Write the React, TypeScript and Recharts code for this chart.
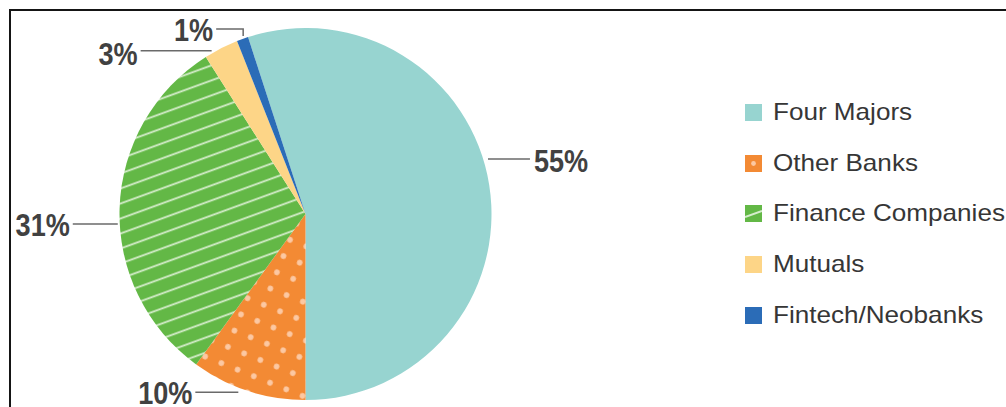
import React from 'react';
import { PieChart, Pie, Cell, Legend } from 'recharts';

// ---- data ----
const categories = ['Four Majors', 'Other Banks', 'Finance Companies', 'Mutuals', 'Fintech/Neobanks'];
const shares = [55, 10, 31, 3, 1];
const shareLabels = ['55%', '10%', '31%', '3%', '1%'];

// ---- styles ----
const COLORS = ['#97d4d0', '#f38a34', '#63b846', '#fdd587', '#2b6cb7'];
const FILLS = [COLORS[0], 'url(#dotsPattern)', 'url(#stripesPattern)', COLORS[3], COLORS[4]];

// label leader layout: angle (deg, ccw from east), gap outside the rim, line length, side, elbow rise, text dy
const LABEL_LAYOUT = [
  { angle: 16.8, gap: 4.6, len: 42, side: 1, elbow: 0, dy: 2, tgap: 4 },
  { angle: -110.65, gap: 4.5, len: 43, side: -1, elbow: 0, dy: 0.5, tgap: 3 },
  { angle: 183.05, gap: 2, len: 45, side: -1, elbow: 0, dy: 1, tgap: 3 },
  { angle: 119.9, gap: 2.3, len: 71, side: -1, elbow: 0, dy: 2.5, tgap: 3 },
  { angle: 109.3, gap: 2.6, len: 27, side: -1, elbow: 7, dy: 1, tgap: 3 },
];

const data = categories.map((name, i) => ({ name, value: shares[i], label: shareLabels[i] }));

const renderLabel = (props: any) => {
  const { cx, cy, outerRadius, index } = props;
  const L = LABEL_LAYOUT[index];
  const rad = (Math.PI / 180) * L.angle;
  const r = outerRadius + L.gap;
  const x0 = cx + r * Math.cos(rad);
  const y0 = cy - r * Math.sin(rad);
  const yl = y0 - L.elbow;
  const x1 = x0 + L.side * L.len;
  const tx = x1 + L.side * L.tgap;
  const ty = yl + L.dy;
  return (
    <g key={`lbl-${index}`}>
      <path d={`M${x0},${y0} L${x0},${yl} L${x1},${yl}`} stroke="#6a6a6a" strokeWidth={1.5} fill="none" />
      <text
        x={0}
        y={0}
        transform={`translate(${tx},${ty}) scale(0.86,1)`}
        textAnchor={L.side > 0 ? 'start' : 'end'}
        dominantBaseline="central"
        fontFamily="'Liberation Sans', Arial, sans-serif"
        fontWeight="bold"
        fontSize={31.5}
        fill="#414141"
      >
        {data[index].label}
      </text>
    </g>
  );
};

const LegendIcon = ({ index }: { index: number }) => (
  <svg width={17} height={17} style={{ display: 'block' }}>
    <rect x={0} y={0} width={17} height={17} fill={COLORS[index]} />
    {index === 1 && <circle cx={8.5} cy={8.5} r={2.4} fill="#fcc8a2" />}
    {index === 2 && <line x1={0} y1={12} x2={17} y2={6} stroke="#d6edcc" strokeWidth={2} />}
  </svg>
);

const renderLegend = () => (
  <div style={{ display: 'flex', flexDirection: 'column' }}>
    {data.map((d, i) => (
      <div key={d.name} style={{ height: 50.7, display: 'flex', alignItems: 'center' }}>
        <LegendIcon index={i} />
        <span
          style={{
            marginLeft: 11,
            fontFamily: "'Liberation Sans', Arial, sans-serif",
            fontSize: 23.4,
            color: '#363636',
            display: 'inline-block',
            transform: 'scaleX(1.115)',
            transformOrigin: 'left center',
            whiteSpace: 'nowrap',
          }}
        >
          {d.name}
        </span>
      </div>
    ))}
  </div>
);

export default function App() {
  return (
    <div style={{ position: 'fixed', left: 0, top: 0, width: 1006, height: 407, background: '#fff', overflow: 'hidden' }}>
      <div
        style={{
          position: 'absolute',
          left: 9,
          top: 9,
          width: 1100,
          height: 500,
          borderTop: '2px solid #151515',
          borderLeft: '2px solid #151515',
        }}
      />
      <div style={{ position: 'absolute', left: 0, top: 0 }}>
        <PieChart width={1006} height={407} margin={{ top: 0, right: 0, bottom: 0, left: 0 }}>
          <defs>
            <pattern id="dotsPattern" patternUnits="userSpaceOnUse" width={17.5} height={17.5} patternTransform="rotate(22)">
              <rect x={0} y={0} width={17.5} height={17.5} fill={COLORS[1]} />
              <circle cx={8.75} cy={8.75} r={2.8} fill="#fcc8a2" />
            </pattern>
            <pattern id="stripesPattern" patternUnits="userSpaceOnUse" width={14.1} height={14.1} patternTransform="rotate(-20)">
              <rect x={0} y={0} width={14.1} height={14.1} fill={COLORS[2]} />
              <rect x={0} y={6} width={14.1} height={1.8} fill="#d6edcc" />
            </pattern>
          </defs>
          <Pie
            data={data}
            dataKey="value"
            nameKey="name"
            cx={305.5}
            cy={214}
            outerRadius={186}
            startAngle={108}
            endAngle={-252}
            stroke="none"
            isAnimationActive={false}
            labelLine={false}
            label={renderLabel}
          >
            {data.map((d, i) => (
              <Cell key={d.name} fill={FILLS[i]} />
            ))}
          </Pie>
          <Legend
            layout="vertical"
            align="right"
            verticalAlign="top"
            content={renderLegend}
            wrapperStyle={{ left: 745, top: 87, right: 'auto', width: 261 }}
          />
        </PieChart>
      </div>
    </div>
  );
}
